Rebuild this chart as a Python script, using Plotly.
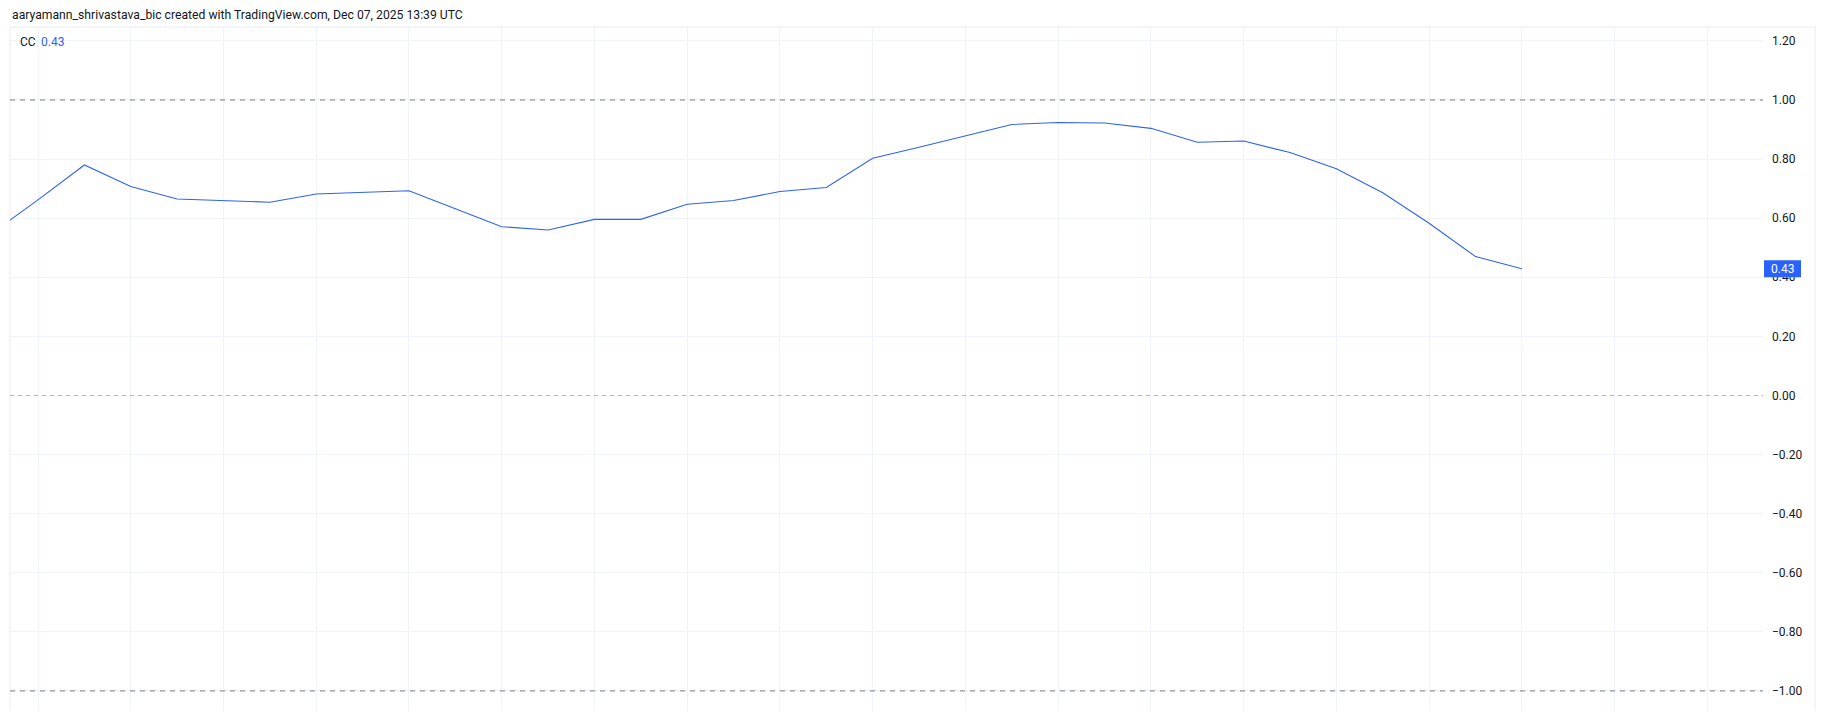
import plotly.graph_objects as go

# ---- data ----
bar_index = list(range(-1, 33))
cc_values = [0.548, 0.662, 0.780, 0.707, 0.665, 0.659, 0.654, 0.682, 0.688, 0.693,
             0.632, 0.571, 0.560, 0.596, 0.596, 0.647, 0.660, 0.690, 0.704, 0.803,
             0.840, 0.879, 0.917, 0.924, 0.922, 0.904, 0.857, 0.861, 0.822, 0.767,
             0.686, 0.583, 0.470, 0.429]
hline_levels = [1.0, -1.0]
zero_level = [0.0]
y_ticks = [-1.0, -0.8, -0.6, -0.4, -0.2, 0.0, 0.2, 0.4, 0.6, 0.8, 1.0, 1.2]
title_text = "aaryamann_shrivastava_bic created with TradingView.com, Dec 07, 2025 13:39 UTC"
series_name = "CC"

W, H = 1825, 711
ML, MR, MT, MB = 10, 62, 27, 0
PW = W - ML - MR
PH = H - MT - MB
Y_RANGE = [-1.068, 1.247]
X_RANGE = [-0.604, 37.2]
FONT = "Roboto"
BLUE = "#2962FF"
LINE_BLUE = "#2f63e8"
TXT = "#131722"
GRID = "#F0F3FA"

last = cc_values[-1]
unit_px = PH / (Y_RANGE[1] - Y_RANGE[0])

fig = go.Figure()
fig.add_trace(go.Scatter(x=bar_index, y=cc_values, mode="lines",
                         line=dict(color=LINE_BLUE, width=1.1), name=series_name,
                         hoverinfo="skip", showlegend=False))

shapes = []
for lv in hline_levels:
    shapes.append(dict(type="line", xref="paper", x0=0, x1=1, yref="y", y0=lv, y1=lv,
                       line=dict(color="#787B86", width=1, dash="5px,5px"), layer="above"))
for lv in zero_level:
    shapes.append(dict(type="line", xref="paper", x0=0, x1=1, yref="y", y0=lv, y1=lv,
                       line=dict(color="rgba(120,123,134,0.55)", width=1, dash="4px,4px"), layer="above"))
# pane frame
frame_col = "#E9ECF2"
right_px = 1815
shapes += [
    dict(type="line", xref="paper", yref="paper", x0=0, x1=0, y0=0, y1=1,
         line=dict(color=frame_col, width=1), layer="below"),
    dict(type="line", xref="paper", yref="paper", x0=0, x1=(right_px - ML) / PW, y0=1, y1=1,
         line=dict(color=frame_col, width=1), layer="below"),
    dict(type="line", xref="paper", yref="paper", x0=(right_px - ML) / PW, x1=(right_px - ML) / PW,
         y0=0, y1=1, line=dict(color=frame_col, width=1), layer="below"),
]
# last value price label box
half_h = 8.5 / unit_px
shapes.append(dict(type="rect", xref="paper", yref="y",
                   x0=1 + 1 / PW, x1=1 + 38 / PW, y0=last - half_h, y1=last + half_h,
                   fillcolor=BLUE, line=dict(width=0), layer="above"))

annotations = [
    dict(text=title_text, xref="paper", yref="paper", x=0, y=1 + (MT - 15) / PH,
         xanchor="left", yanchor="middle", showarrow=False,
         font=dict(family=FONT, size=12.2, color=TXT)),
    dict(text=series_name, xref="paper", yref="paper", x=8 / PW, y=1 - 14.7 / PH,
         xanchor="left", yanchor="middle", showarrow=False,
         font=dict(family=FONT, size=12, color=TXT)),
    dict(text=f"{last:.2f}", xref="paper", yref="paper", x=29 / PW, y=1 - 14.7 / PH,
         xanchor="left", yanchor="middle", showarrow=False,
         font=dict(family=FONT, size=12, color=BLUE)),
    dict(text=f"{last:.2f}", xref="paper", yref="y", x=1 + 19.5 / PW, y=last,
         xanchor="center", yanchor="middle", showarrow=False,
         font=dict(family=FONT, size=12, color="white")),
]

fig.update_layout(
    width=W, height=H,
    margin=dict(l=ML, r=MR, t=MT, b=MB, pad=0),
    paper_bgcolor="white", plot_bgcolor="white",
    font=dict(family=FONT, size=12, color=TXT),
    shapes=shapes, annotations=annotations,
    showlegend=False,
    xaxis=dict(range=X_RANGE, showticklabels=False, showgrid=True, gridcolor=GRID,
               gridwidth=1, tick0=0, dtick=2, zeroline=False, showline=False, ticks=""),
    yaxis=dict(range=Y_RANGE, side="right", tickvals=y_ticks, tickformat=".2f",
               showgrid=True, gridcolor=GRID, gridwidth=1, zeroline=False,
               showline=False, ticks="", ticklabelstandoff=8,
               tickfont=dict(family=FONT, size=12, color=TXT)),
)

fig.write_html("out.html", config={"displayModeBar": False},
               post_script="document.body.style.margin='0';document.body.style.overflow='hidden';")
